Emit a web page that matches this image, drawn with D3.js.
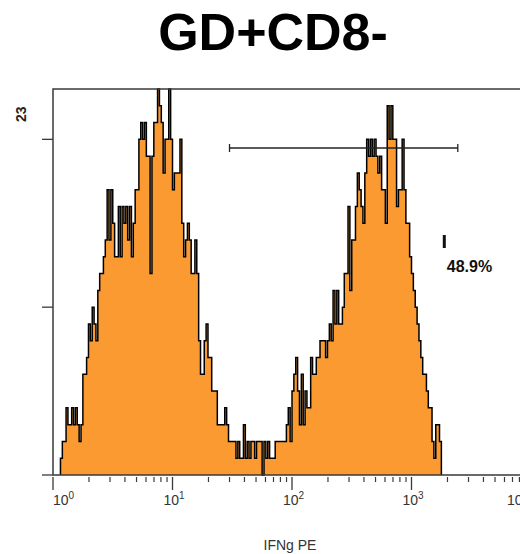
<script src="https://d3js.org/d3.v7.min.js"></script>

<div id="canvas"></div>

<script>
    const width = 520;
    const height = 554;

    // histogram: 256 log channels over 10^0..10^4, counts start at channel 4
    const firstChannel = 4;
    const channelsPerDecade = 64;
    const counts = [
        1, 2, 2, 4, 3, 3, 4, 3, 4, 3, 2, 3, 6, 6, 7, 9, 8, 10, 9, 8,
        11, 12, 12, 13, 14, 17, 14, 17, 15, 13, 13, 16, 13, 16, 15, 16, 14, 16, 13, 15,
        17, 17, 20, 21, 20, 21, 19, 19, 12, 19, 21, 21, 23, 22, 21, 18, 20, 20, 23, 20,
        17, 18, 18, 18, 20, 15, 13, 14, 15, 14, 12, 12, 14, 12, 8, 6, 6, 8, 9, 7,
        7, 5, 5, 5, 3, 3, 3, 3, 4, 3, 2, 2, 2, 2, 1, 2, 1, 1, 3, 1,
        2, 1, 2, 2, 1, 2, 2, 2, 0, 2, 1, 2, 1, 1, 1, 2, 2, 2, 2, 2,
        2, 3, 4, 2, 5, 6, 7, 5, 3, 6, 3, 5, 4, 4, 7, 6, 6, 7, 7, 8,
        8, 8, 7, 8, 9, 8, 11, 9, 11, 9, 9, 10, 12, 12, 16, 11, 14, 14, 16, 18,
        17, 16, 15, 18, 20, 19, 20, 19, 20, 19, 18, 19, 17, 17, 15, 22, 20, 22, 20, 20,
        16, 17, 17, 20, 17, 15, 15, 13, 12, 11, 10, 9, 8, 7, 6, 6, 5, 4, 4, 2,
        1, 3, 3, 2
    ];

    const xTicks = [1, 10, 100, 1000, 10000];
    const yTicks = [0, 10, 20];
    const yMax = 23;
    const gate = [30, 2440];
    const gateLabel = "48.9%";

    const title = "GD+CD8-";
    const xLabel = "IFNg PE";

    const svg = d3.select("#canvas")
        .append("svg")
        .attr("width", width)
        .attr("height", height)
        .style("display", "block")
        .style("font-family", "'Liberation Sans', Arial, sans-serif");

    d3.select("body").style("margin", 0);

    const x = d3.scaleLog().domain([1, 10000]).range([53, 531]);
    const y = d3.scaleLinear().domain([0, yMax]).range([475, 89]);

    const edge = i => Math.pow(10, i / channelsPerDecade);

    const bins = [{v: edge(firstChannel), c: 0}];
    counts.forEach((c, k) => bins.push({v: edge(firstChannel + k), c}));
    bins.push({v: edge(firstChannel + counts.length), c: 0});

    const area = d3.area()
        .curve(d3.curveStepAfter)
        .x(d => x(d.v))
        .y0(y(0))
        .y1(d => y(d.c));

    const line = d3.line()
        .curve(d3.curveStepAfter)
        .x(d => x(d.v))
        .y(d => y(d.c));

    svg.append("path")
        .attr("d", area(bins))
        .attr("fill", "#fb9a31");

    svg.append("path")
        .attr("d", line(bins))
        .attr("fill", "none")
        .attr("stroke", "#000")
        .attr("stroke-width", 1.5);

    // frame
    const axisColor = "#3a3a3a";
    svg.append("path")
        .attr("d", `M${width},${y(yMax)}H${x(1)}V${y(0)}H${width}`)
        .attr("fill", "none")
        .attr("stroke", axisColor)
        .attr("stroke-width", 1.5);

    // y ticks
    svg.selectAll(".ytick")
        .data(yTicks)
        .enter()
        .append("line")
        .attr("x1", x(1) - 11)
        .attr("x2", x(1))
        .attr("y1", d => y(d))
        .attr("y2", d => y(d))
        .attr("stroke", axisColor)
        .attr("stroke-width", 1.3);

    svg.append("text")
        .attr("transform", `translate(26,${(y(yMax) + y(20)) / 2}) rotate(-90)`)
        .attr("text-anchor", "middle")
        .attr("font-size", 14)
        .attr("font-weight", "bold")
        .attr("fill", "#222")
        .text(yMax);

    // x ticks (major + minor)
    const minor = [];
    for (let d = 1; d < 10000; d *= 10) {
        for (let m = 2; m <= 9; m++) minor.push(d * m);
    }

    svg.selectAll(".xminor")
        .data(minor)
        .enter()
        .append("line")
        .attr("x1", d => x(d))
        .attr("x2", d => x(d))
        .attr("y1", y(0) + 2)
        .attr("y2", y(0) + 7)
        .attr("stroke", axisColor)
        .attr("stroke-width", 1.2);

    svg.selectAll(".xmajor")
        .data(xTicks)
        .enter()
        .append("line")
        .attr("x1", d => x(d))
        .attr("x2", d => x(d))
        .attr("y1", y(0) + 2)
        .attr("y2", y(0) + 15)
        .attr("stroke", axisColor)
        .attr("stroke-width", 1.3);

    // first label starts at its tick, last one is pulled left, others centred-ish
    const labelX = (d, i) => i === 0 ? x(d) : i === xTicks.length - 1 ? x(d) - 24 : x(d) - 9;

    const labels = svg.selectAll(".xlab")
        .data(xTicks)
        .enter()
        .append("text")
        .attr("x", labelX)
        .attr("y", 505)
        .attr("font-size", 14)
        .attr("fill", "#333");

    labels.append("tspan").text("10");
    labels.append("tspan")
        .attr("dy", -6)
        .attr("font-size", 10)
        .text(d => Math.round(Math.log10(d)));

    svg.append("text")
        .attr("x", 290)
        .attr("y", 550)
        .attr("text-anchor", "middle")
        .attr("font-size", 14)
        .attr("fill", "#333")
        .text(xLabel);

    // gate
    const gy = 148;
    const gateColor = "#222";
    svg.append("line")
        .attr("x1", x(gate[0]))
        .attr("x2", x(gate[1]))
        .attr("y1", gy)
        .attr("y2", gy)
        .attr("stroke", gateColor)
        .attr("stroke-width", 1.3);

    svg.selectAll(".gcap")
        .data(gate)
        .enter()
        .append("line")
        .attr("x1", d => x(d))
        .attr("x2", d => x(d))
        .attr("y1", gy - 4)
        .attr("y2", gy + 4)
        .attr("stroke", gateColor)
        .attr("stroke-width", 1.3);

    svg.append("rect")
        .attr("x", x(gate[1]) - 15)
        .attr("y", 235)
        .attr("width", 3)
        .attr("height", 13)
        .attr("fill", "#111");

    svg.append("text")
        .attr("x", x(gate[1]) - 11)
        .attr("y", 272)
        .attr("font-size", 16)
        .attr("font-weight", "bold")
        .attr("fill", "#111")
        .text(gateLabel);

    // title
    svg.append("text")
        .attr("x", 273)
        .attr("y", 50)
        .attr("text-anchor", "middle")
        .attr("font-size", 52)
        .attr("font-weight", "bold")
        .attr("fill", "#000")
        .text(title);
</script>
